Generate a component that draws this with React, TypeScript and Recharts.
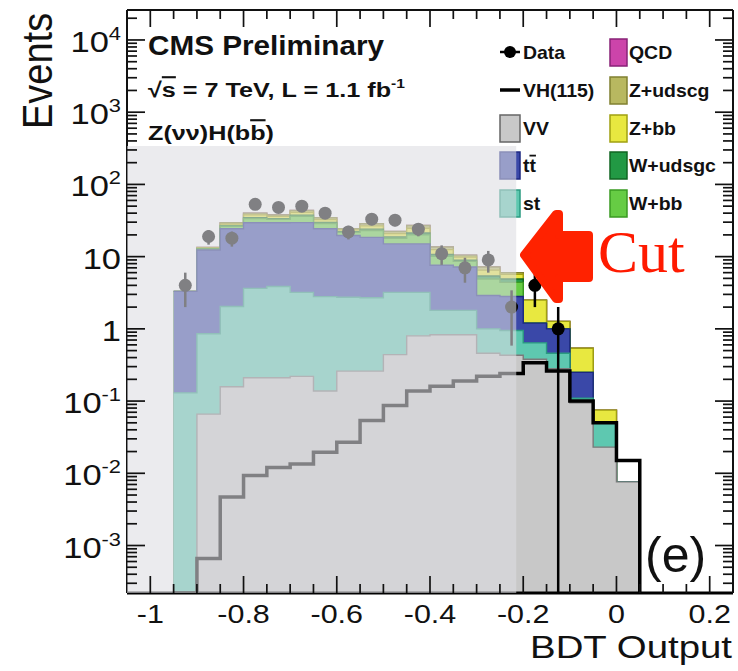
import React from "react";
import { ComposedChart, Area, Line, Scatter, ErrorBar, XAxis, YAxis, ReferenceArea } from "recharts";

const W = 738;
const H = 671;
const XMIN = -1.05;
const XMAX = 0.25;
const YMIN = 2.2e-4;
const YMAX = 2.6e4;
const CUT = -0.215;
const SHADE_TOP = 340;

// lower edges of the 0.05 wide bins
const binEdges = [-0.95, -0.9, -0.85, -0.8, -0.75, -0.7, -0.65, -0.6, -0.55, -0.5, -0.45, -0.4, -0.35, -0.3, -0.25, -0.2, -0.15, -0.1, -0.05, 0.0];
const binWidth = 0.05;

// backgrounds, stacked from the bottom up
const vv = [0, 0.066, 0.158, 0.21, 0.21, 0.22, 0.138, 0.26, 0.26, 0.44, 0.8, 0.83, 0.83, 0.46, 0.43, 0.38, 0.28, 0.095, 0.023, 0.0076];
const st = [0.13, 0.79, 1.88, 3.43, 3.64, 2.98, 2.66, 2.48, 2.44, 2.76, 2.4, 0.97, 0.97, 0.54, 0.52, 0.26, 0.18, 0.015, 0.027, 0];
const ttbar = [3.17, 11.5, 22.3, 25.8, 25.6, 26.4, 21.5, 16.9, 15.8, 11.8, 11.8, 5.8, 5.4, 1.9, 1.85, 0.56, 0.54, 0.14, 0, 0];
const wbb = [0, 0.4, 2.0, 4.2, 3.3, 6.5, 4.5, 2.0, 4.5, 3.0, 5.0, 2.5, 1.4, 2.0, 1.6, 0, 0, 0, 0, 0];
const wudsgc = [0, 0.1, 0.5, 1.0, 0.8, 1.4, 1.0, 0.5, 1.0, 0.7, 1.2, 0.6, 0.3, 0.5, 0.5, 0, 0, 0, 0, 0];
const zbb = [0, 0.3, 1.5, 3.2, 2.5, 3.6, 2.8, 1.3, 2.7, 2.2, 3.5, 1.8, 1.0, 1.1, 0.8, 1.3, 0.27, 0.29, 0.025, 0];
const zudscg = [0, 0.2, 1.1, 2.2, 1.7, 2.6, 1.9, 0.9, 1.8, 1.5, 2.3, 1.1, 0.6, 0.7, 0.3, 0, 0, 0, 0, 0];
const qcd = [0, 0, 0, 0, 0, 0, 0, 0, 0, 0, 0, 0, 0, 0, 0, 0, 0, 0, 0, 0];

// signal VH(115), not stacked
const vh = [0, 6.6e-4, 0.0047, 0.0093, 0.012, 0.0134, 0.0196, 0.027, 0.054, 0.087, 0.138, 0.16, 0.19, 0.22, 0.24, 0.34, 0.26, 0.1, 0.05, 0.015];

// data points at bin centres
const dataCenters = [-0.925, -0.875, -0.825, -0.775, -0.725, -0.675, -0.625, -0.575, -0.525, -0.475, -0.425, -0.375, -0.325, -0.275, -0.225, -0.175, -0.125];
const dataCounts = [4, 19, 18, 53, 48, 50, 40, 22, 33, 32, 24, 11, 7, 9, 2, 4, 1];

const xMajorTicks = [-1, -0.8, -0.6, -0.4, -0.2, 0, 0.2];
const xMajorLabels = ["-1", "-0.8", "-0.6", "-0.4", "-0.2", "0", "0.2"];
const yMajorTicks = [1e-3, 1e-2, 1e-1, 1, 10, 1e2, 1e3, 1e4];
const yMajorLabels = [["10", "-3"], ["10", "-2"], ["10", "-1"], ["1", ""], ["10", ""], ["10", "2"], ["10", "3"], ["10", "4"]];

const layers = [
  { key: "vv", values: vv, fill: "#c8c8c8", stroke: "#7a7a7a" },
  { key: "st", values: st, fill: "#5ec8b0", stroke: "#2a9a80" },
  { key: "tt", values: ttbar, fill: "#3a48a8", stroke: "#1c2780" },
  { key: "wbb", values: wbb, fill: "#66cc44", stroke: "#3a9a22" },
  { key: "wudsgc", values: wudsgc, fill: "#229944", stroke: "#116622" },
  { key: "zbb", values: zbb, fill: "#e8e840", stroke: "#a0a010" },
  { key: "zudscg", values: zudscg, fill: "#b8b860", stroke: "#808030" },
  { key: "qcd", values: qcd, fill: "#cc44aa", stroke: "#882277" },
];

const clampY = (v: number) => Math.max(v, YMIN);

const rows: any[] = binEdges.map((x, i) => {
  const r: any = { x, vh: clampY(vh[i]) };
  let sum = 0;
  layers.forEach((l) => {
    sum += l.values[i];
    r[l.key] = clampY(sum);
  });
  return r;
});
const lastIdx = binEdges.length - 1;
const xEnd = Math.round((binEdges[lastIdx] + binWidth) * 100) / 100;
rows.push({ ...rows[lastIdx], x: xEnd });
const closing: any = { x: xEnd, vh: YMIN };
layers.forEach((l) => (closing[l.key] = YMIN));
rows.push(closing);

const points = dataCenters.map((x, i) => {
  const n = dataCounts[i];
  const e = Math.sqrt(n);
  const low = Math.max(n - e, YMIN);
  return { x, y: n, err: [n - low, e] };
});

const xTicks: number[] = [];
for (let k = -20; k <= 4; k++) xTicks.push(Math.round(k * 5) / 100);

const yTicks: number[] = [];
for (let e = -4; e <= 4; e++) {
  for (let m = 1; m <= 9; m++) {
    const v = m * Math.pow(10, e);
    if (v > YMIN && v < YMAX) yTicks.push(v);
  }
}

const FONT = "'Liberation Sans', Arial, Helvetica, sans-serif";
const AXIS = "#111";
const MARGIN = { top: 9, right: 4, bottom: 0, left: 0 };

const majorX = (v: number) => xMajorTicks.findIndex((t) => Math.abs(t - v) < 1e-6);
const majorY = (v: number) => yMajorTicks.findIndex((t) => Math.abs(t - v) / t < 1e-6);

// frame tick marks, placed on the frame edges through the chart's own scales
const bottomMarks = xTicks.map((t) => ({ x: t, y: YMIN, len: majorX(t) >= 0 ? 17 : 9 }));
const topMarks = xTicks.map((t) => ({ x: t, y: YMAX, len: majorX(t) >= 0 ? 17 : 9 }));
const leftMarks = yTicks.map((t) => ({ x: XMIN, y: t, len: majorY(t) >= 0 ? 18 : 10 }));
const rightMarks = yTicks.map((t) => ({ x: XMAX, y: t, len: majorY(t) >= 0 ? 18 : 10 }));

const markShape = (dx: number, dy: number) => (p: any) => {
  const len = p.payload ? p.payload.len : 9;
  return <path d={`M${p.cx},${p.cy}L${p.cx + dx * len},${p.cy + dy * len}`} stroke={AXIS} strokeWidth={1.7} fill="none" />;
};

function XLabel(props: any) {
  const { x, y, payload } = props;
  const idx = majorX(payload.value);
  if (idx < 0) return <g />;
  return (
    <text transform={`translate(${x},${y + 30}) scale(1.22,1)`} textAnchor="middle" fontSize={25} fontFamily={FONT} fill="#111">
      {xMajorLabels[idx]}
    </text>
  );
}

function YLabel(props: any) {
  const { x, y, payload } = props;
  const idx = majorY(payload.value);
  if (idx < 0) return <g />;
  return (
    <text transform={`translate(${x - 6},${y + 12}) scale(1.15,1)`} textAnchor="end" fontSize={30} fontFamily={FONT} fill="#111">
      {yMajorLabels[idx][0]}
      {yMajorLabels[idx][1] && (
        <tspan dy={-12} fontSize={19}>
          {yMajorLabels[idx][1]}
        </tspan>
      )}
    </text>
  );
}

const legendLeft = [
  { kind: "data", label: "Data" },
  { kind: "line", label: "VH(115)" },
  { kind: "box", label: "VV", fill: "#c8c8c8", stroke: "#666" },
  { kind: "box", label: "tt", bar: true, fill: "#3a48a8", stroke: "#1c2780" },
  { kind: "box", label: "st", fill: "#5ec8b0", stroke: "#2a9a80" },
];
const legendRight = [
  { label: "QCD", fill: "#cc44aa", stroke: "#882277" },
  { label: "Z+udscg", fill: "#b8b860", stroke: "#808030" },
  { label: "Z+bb", fill: "#e8e840", stroke: "#a0a010" },
  { label: "W+udsgc", fill: "#229944", stroke: "#116622" },
  { label: "W+bb", fill: "#66cc44", stroke: "#3a9a22" },
];
const legendRowsY = [52, 90, 128, 165, 203];

function Backdrop() {
  const lt = (x: number, y: number, content: React.ReactNode, key: string) => (
    <text key={key} transform={`translate(${x},${y}) scale(1.08,1)`} fontSize={18} fontWeight="bold" fontFamily={FONT} fill="#111">
      {content}
    </text>
  );
  return (
    <svg width={W} height={H} style={{ position: "absolute", left: 0, top: 0, zIndex: 0 }}>
      <text transform="translate(148,55) scale(1.1,1)" fontSize={27} fontWeight="bold" fontFamily={FONT} fill="#111">
        CMS Preliminary
      </text>
      <text transform="translate(148,97) scale(1.2,1)" fontSize={21} fontWeight="bold" fontFamily={FONT} fill="#111">
        √<tspan style={{ textDecoration: "overline" }}>s</tspan> = 7 TeV, L = 1.1 fb
        <tspan dy={-9} fontSize={13}>-1</tspan>
      </text>
      <text transform="translate(148,140) scale(1.2,1)" fontSize={21} fontWeight="bold" fontFamily={FONT} fill="#111">
        Z(νν)H(b<tspan style={{ textDecoration: "overline" }}>b</tspan>)
      </text>

      {legendLeft.map((item, i) => {
        const cy = legendRowsY[i];
        return (
          <g key={item.label}>
            {item.kind === "data" && (
              <g>
                <line x1={500} x2={520} y1={cy} y2={cy} stroke="#000" strokeWidth={2.5} />
                <circle cx={510} cy={cy} r={6} fill="#000" />
              </g>
            )}
            {item.kind === "line" && <line x1={500} x2={520} y1={cy} y2={cy} stroke="#000" strokeWidth={3.5} />}
            {item.kind === "box" && (
              <rect x={500} y={cy - 13} width={20} height={27} fill={item.fill} stroke={item.stroke} strokeWidth={1.5} />
            )}
            {lt(
              523,
              cy + 7,
              item.bar ? (
                <>
                  t<tspan style={{ textDecoration: "overline" }}>t</tspan>
                </>
              ) : (
                item.label
              ),
              item.label + "t"
            )}
          </g>
        );
      })}
      {legendRight.map((item, i) => {
        const cy = legendRowsY[i];
        return (
          <g key={item.label}>
            <rect x={610} y={cy - 13} width={17} height={27} fill={item.fill} stroke={item.stroke} strokeWidth={1.5} />
            {lt(629, cy + 7, item.label, item.label + "t")}
          </g>
        );
      })}

      <text transform="translate(52,129) rotate(-90) scale(1,1.1)" fontSize={38} fontFamily={FONT} fill="#111">
        Events
      </text>
      <text transform="translate(732,658) scale(1.2,1)" textAnchor="end" fontSize={32} fontFamily={FONT} fill="#111">
        BDT Output
      </text>
      <text x={645} y={572} fontSize={50} fontFamily={FONT} fill="#111">
        (e)
      </text>
    </svg>
  );
}

function Front() {
  return (
    <svg width={W} height={H} style={{ position: "absolute", left: 0, top: 0, zIndex: 2, pointerEvents: "none" }}>
      <polygon
        points="524,255 556,214 559,214 559,235 589,235 589,278 559,278 559,299 556,299"
        fill="#ff2200"
        stroke="#ff2200"
        strokeWidth={8}
        strokeLinejoin="round"
      />
      <text x={598} y={272} fontSize={60} fontFamily="'Liberation Serif', 'Times New Roman', serif" fill="#ff1a00">
        Cut
      </text>
    </svg>
  );
}

export default function App() {
  return (
    <div style={{ position: "absolute", left: 0, top: 0, width: W, height: H, background: "#fff" }}>
      <Backdrop />
      <div style={{ position: "absolute", left: 0, top: 0, zIndex: 1 }}>
        <ComposedChart width={W} height={H} data={rows} margin={MARGIN}>
          <XAxis
            dataKey="x"
            type="number"
            domain={[XMIN, XMAX]}
            allowDataOverflow
            ticks={xTicks}
            interval={0}
            tickSize={0}
            tickMargin={0}
            tick={<XLabel />}
            height={78}
            axisLine={{ stroke: "#000", strokeWidth: 3 }}
          />
          <XAxis
            xAxisId="top"
            orientation="top"
            dataKey="x"
            type="number"
            domain={[XMIN, XMAX]}
            allowDataOverflow
            ticks={xTicks}
            tickSize={0}
            tick={false}
            height={1}
            axisLine={{ stroke: AXIS, strokeWidth: 2 }}
          />
          <YAxis
            type="number"
            scale="log"
            domain={[YMIN, YMAX]}
            allowDataOverflow
            ticks={yTicks}
            interval={0}
            tickSize={0}
            tickMargin={0}
            tick={<YLabel />}
            width={127}
            axisLine={{ stroke: AXIS, strokeWidth: 2 }}
          />
          <YAxis
            yAxisId="right"
            orientation="right"
            type="number"
            scale="log"
            domain={[YMIN, YMAX]}
            allowDataOverflow
            ticks={yTicks}
            tickSize={0}
            tick={false}
            width={1}
            axisLine={{ stroke: AXIS, strokeWidth: 2 }}
          />
          {[...layers].reverse().map((l) => (
            <Area
              key={l.key}
              type="stepAfter"
              dataKey={l.key}
              fill={l.fill}
              fillOpacity={1}
              stroke={l.stroke}
              strokeWidth={1.4}
              baseValue={YMIN}
              dot={false}
              activeDot={false}
              isAnimationActive={false}
            />
          ))}
          <Line type="stepAfter" dataKey="vh" stroke="#000" strokeWidth={3.5} dot={false} activeDot={false} isAnimationActive={false} />
          <Scatter
            data={points}
            dataKey="y"
            isAnimationActive={false}
            shape={(p: any) => <circle cx={p.cx} cy={p.cy} r={6.5} fill="#000" />}
          >
            <ErrorBar dataKey="err" direction="y" width={0} stroke="#000" strokeWidth={2.5} isAnimationActive={false} />
          </Scatter>
          <ReferenceArea x1={XMIN} x2={CUT} y1={YMIN} y2={SHADE_TOP} fill="#dcdce2" fillOpacity={0.58} stroke="none" zIndex={700} />
          <Scatter data={bottomMarks} dataKey="y" isAnimationActive={false} shape={markShape(0, -1)} zIndex={900} />
          <Scatter data={topMarks} dataKey="y" isAnimationActive={false} shape={markShape(0, 1)} zIndex={900} />
          <Scatter data={leftMarks} dataKey="y" isAnimationActive={false} shape={markShape(1, 0)} zIndex={900} />
          <Scatter data={rightMarks} dataKey="y" isAnimationActive={false} shape={markShape(-1, 0)} zIndex={900} />
        </ComposedChart>
      </div>
      <Front />
    </div>
  );
}
